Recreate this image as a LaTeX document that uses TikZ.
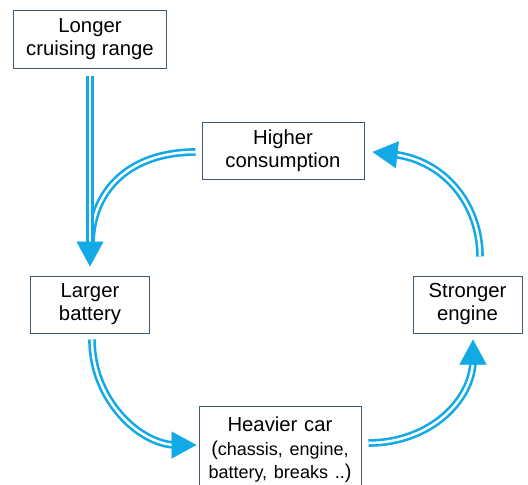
\documentclass[tikz,border=0pt]{standalone}
\usepackage{fontspec}
\setmainfont{Liberation Sans}
\usetikzlibrary{arrows.meta,calc}
\definecolor{arrcol}{HTML}{12AAE6}
\definecolor{boxcol}{HTML}{3E5872}
\begin{document}
\begin{tikzpicture}[x=1pt,y=-1pt,
  box/.style={draw=boxcol, line width=1pt, align=center, font=\fontsize{20.3}{23}\selectfont, inner sep=0pt},
  link/.style={draw=arrcol, line width=2.6pt, double=white, double distance=2.5pt},
  linkend/.style={link, shorten >=20pt},
  tipend/.style={draw=arrcol, line width=0.5pt, -{Triangle[length=25pt,width=27pt]}}]
\useasboundingbox (0,0) rectangle (528,485);
\clip (0,0) rectangle (528,485);
\node[box, minimum width=153pt, minimum height=58pt] (range) at (90,39) {Longer\\cruising range};
\node[box, minimum width=162pt, minimum height=57pt] (cons) at (283,151) {Higher\\consumption};
\node[box, minimum width=119pt, minimum height=57pt] (batt) at (90,304.5) {Larger\\battery};
\node[box, minimum width=109pt, minimum height=57pt] (eng) at (467.5,304.5) {Stronger\\engine};
\node[box, minimum width=162pt, text width=160pt, inner ysep=10.5pt, anchor=north] (car) at (280,406)
  {Heavier car\\[1pt]
   {\fontsize{18}{22}\selectfont{\fontsize{20}{22}\selectfont(}chassis, engine,}\\
   {\fontsize{18}{22}\selectfont battery, breaks ..{\fontsize{20}{22}\selectfont)}}\\
   {\fontsize{18}{22}\selectfont ~}};
% end points
\coordinate (s0) at ([xshift=-6pt,yshift=-1pt]cons.west);
\coordinate (merge) at (91,245);
\coordinate (s1) at ([yshift=-7pt]range.south);
\coordinate (e1) at ([yshift=9pt]batt.north);
\coordinate (s2) at ([xshift=12.5pt,yshift=19pt]eng.north);
\coordinate (e2) at ([xshift=8pt,yshift=-1pt]cons.east);
\coordinate (s3) at ([xshift=2pt,yshift=-6pt]batt.south);
\coordinate (e3) at ([xshift=-2pt,yshift=-39pt]car.north west);
\coordinate (s4) at ([xshift=7pt,yshift=-37pt]car.north east);
\coordinate (e4) at ([xshift=5.5pt,yshift=-6pt]eng.south);
% connectors
\draw[link] (s0) .. controls (130,152) and (91,190) .. (merge);
\draw[linkend] (s1) -- (e1);
\draw[tipend] ($(e1)!25pt!(s1)$) -- (e1);
\draw[linkend] (s2) .. controls (480,205) and (445,160) .. (e2);
\draw[tipend] ($(e2)!25pt!(445,160)$) -- (e2);
\draw[linkend] (s3) .. controls (92,400) and (140,445) .. (e3);
\draw[tipend] ($(e3)!25pt!(140,445)$) -- (e3);
\draw[linkend] (s4) .. controls (430,443) and (473,400) .. (e4);
\draw[tipend] ($(e4)!25pt!(473,400)$) -- (e4);
\end{tikzpicture}
\end{document}
